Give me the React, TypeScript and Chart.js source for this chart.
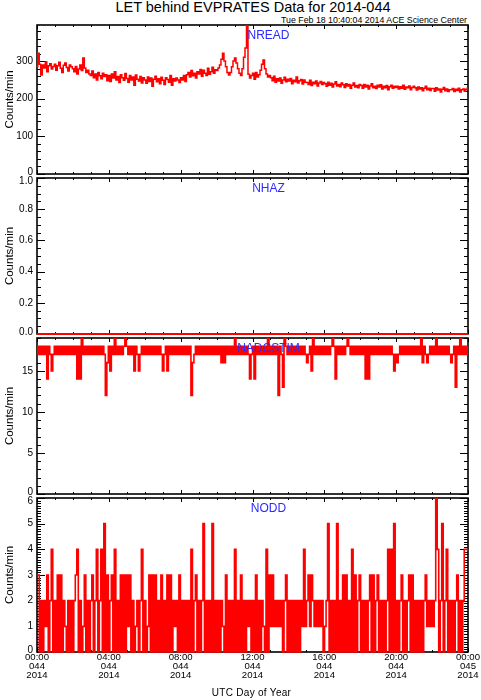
import React, { useEffect, useRef } from 'react';
import { Chart, registerables } from 'chart.js';

Chart.register(...registerables);

// ---------- data (5-minute samples across day 2014-044) ----------
const X_HOURS = [0, 4, 8, 12, 16, 20, 24];
const X_TIME_LABELS = ['00:00', '04:00', '08:00', '12:00', '16:00', '20:00', '00:00'];
const X_DAY_LABELS = ['044', '044', '044', '044', '044', '044', '045'];
const X_YEAR_LABELS = ['2014', '2014', '2014', '2014', '2014', '2014', '2014'];

const NREAD = [
  285, 321, 292, 263, 290, 282, 298, 272, 288, 293, 279, 286,
  292, 276, 288, 297, 281, 270, 289, 295, 283, 274, 290, 285,
  280, 272, 286, 266, 279, 290, 275, 308, 282, 270, 276, 266,
  262, 274, 256, 266, 250, 270, 261, 253, 268, 259, 264, 248,
  262, 246, 266, 255, 272, 250, 259, 243, 264, 256, 249, 267,
  254, 244, 262, 250, 258, 236, 263, 252, 247, 259, 242, 256,
  250, 241, 258, 246, 255, 233, 252, 260, 245, 253, 240, 257,
  249, 238, 256, 251, 244, 262, 236, 253, 247, 255, 250, 243,
  256, 250, 262, 246, 264, 270, 258, 275, 261, 268, 255, 272,
  266, 278, 260, 276, 268, 262, 281, 265, 272, 284, 268, 277,
  275, 282, 290, 305, 321, 300, 285, 270, 263, 270, 285, 300,
  308, 295, 280, 268, 262, 280, 310, 335, 396, 265, 255, 262,
  268, 252, 270, 258, 264, 276, 292, 303, 280, 266, 258, 262,
  256, 248, 260, 244, 253, 247, 255, 241, 250, 257, 245, 252,
  247, 254, 240, 249, 245, 258, 242, 248, 251, 239, 250, 244,
  243, 238, 249, 235, 244, 240, 247, 234, 242, 246, 238, 243,
  240, 233, 244, 236, 241, 231, 239, 245, 234, 238, 232, 242,
  237, 230, 240, 234, 238, 228, 236, 242, 231, 235, 229, 238,
  235, 228, 238, 231, 236, 226, 234, 240, 229, 233, 227, 236,
  231, 237, 226, 233, 229, 235, 224, 232, 236, 228, 233, 230,
  233, 226, 232, 228, 236, 225, 231, 229, 234, 224, 230, 233,
  229, 223, 231, 226, 229, 221, 228, 233, 224, 228, 222, 227,
  227, 220, 229, 223, 226, 218, 225, 230, 221, 226, 219, 224,
  224, 227, 219, 225, 222, 228, 218, 224, 226, 220, 225, 228,
];

const NHAZ = [
  0, 0, 0, 0, 0, 0, 0, 0, 0, 0, 0, 0, 0,
  0, 0, 0, 0, 0, 0, 0, 0, 0, 0, 0, 0,
];

const NADCSTIM = [
  18, 17, 18, 17, 18, 17, 18, 14, 18, 17, 15, 17,
  18, 17, 18, 17, 18, 17, 18, 17, 18, 17, 18, 17,
  18, 17, 18, 14, 18, 14, 19, 17, 18, 17, 18, 17,
  18, 17, 18, 17, 18, 17, 18, 17, 18, 17, 12, 16,
  18, 15, 18, 17, 19, 17, 18, 17, 18, 17, 18, 19,
  18, 17, 18, 17, 18, 15, 18, 17, 15, 17, 18, 17,
  18, 17, 18, 17, 18, 17, 18, 17, 18, 17, 18, 17,
  15, 17, 18, 15, 18, 17, 18, 17, 18, 17, 18, 17,
  18, 17, 18, 17, 18, 17, 18, 12, 16, 17, 18, 17,
  18, 17, 18, 17, 18, 17, 18, 17, 18, 17, 18, 17,
  18, 17, 18, 16, 18, 16, 18, 17, 18, 17, 18, 17,
  19, 17, 18, 17, 18, 17, 18, 17, 18, 17, 14, 17,
  18, 14, 18, 17, 18, 17, 18, 17, 18, 17, 19, 17,
  18, 17, 18, 17, 18, 12, 18, 17, 13, 19, 18, 17,
  18, 17, 18, 17, 18, 17, 18, 17, 18, 17, 18, 17,
  16, 17, 18, 15, 19, 17, 18, 17, 18, 17, 18, 17,
  18, 17, 18, 17, 18, 19, 18, 14, 18, 17, 18, 17,
  18, 17, 18, 19, 18, 17, 18, 17, 18, 17, 18, 17,
  18, 17, 18, 14, 18, 14, 18, 17, 18, 17, 18, 17,
  18, 17, 18, 17, 18, 17, 18, 17, 18, 17, 15, 17,
  16, 17, 18, 17, 18, 17, 18, 17, 18, 17, 18, 17,
  18, 17, 18, 17, 19, 16, 18, 17, 16, 17, 18, 17,
  18, 17, 19, 17, 18, 17, 18, 17, 18, 17, 18, 17,
  16, 17, 18, 13, 18, 17, 19, 17, 18, 17, 18, 17,
];

const NODD = [
  3, 3, 0, 2, 0, 2, 1, 3, 0, 2, 4, 0,
  2, 0, 3, 0, 3, 0, 2, 1, 0, 2, 0, 2,
  0, 2, 3, 4, 0, 2, 0, 1, 3, 0, 2, 0,
  2, 3, 0, 2, 4, 0, 2, 4, 0, 5, 0, 3,
  0, 2, 3, 0, 4, 0, 2, 0, 3, 0, 3, 0,
  3, 1, 3, 0, 2, 0, 1, 2, 0, 2, 4, 0,
  2, 0, 1, 3, 0, 3, 0, 3, 0, 2, 0, 3,
  0, 2, 0, 3, 0, 3, 0, 2, 1, 2, 0, 3,
  0, 2, 0, 2, 0, 2, 0, 4, 0, 2, 3, 0,
  2, 0, 2, 5, 0, 2, 0, 2, 0, 5, 0, 2,
  0, 2, 0, 2, 1, 0, 3, 0, 2, 0, 2, 0,
  4, 0, 2, 0, 3, 0, 2, 0, 2, 1, 2, 0,
  2, 0, 3, 0, 2, 0, 2, 1, 0, 4, 0, 3,
  1, 3, 1, 2, 1, 2, 1, 2, 0, 2, 3, 0,
  2, 0, 2, 0, 2, 0, 2, 0, 2, 1, 4, 1,
  2, 3, 1, 3, 2, 1, 2, 1, 2, 1, 2, 0,
  1, 2, 5, 0, 2, 0, 2, 0, 5, 0, 2, 0,
  3, 0, 3, 0, 2, 0, 4, 0, 3, 0, 2, 3,
  0, 2, 0, 2, 0, 2, 3, 0, 3, 0, 2, 3,
  0, 2, 0, 2, 0, 2, 4, 0, 4, 0, 5, 0,
  2, 0, 2, 3, 0, 2, 0, 2, 3, 0, 3, 0,
  2, 0, 2, 0, 2, 0, 2, 3, 1, 2, 1, 2,
  1, 2, 6, 4, 0, 2, 5, 0, 2, 4, 0, 2,
  0, 2, 0, 2, 3, 0, 2, 0, 2, 4, 4, 4,
];

const NREAD_TICKS = [0, 100, 200, 300];
const NHAZ_TICKS = [0, 0.2, 0.4, 0.6, 0.8, 1.0];
const NADCSTIM_TICKS = [0, 5, 10, 15];
const NODD_TICKS = [0, 1, 2, 3, 4, 5, 6];

// ---------- layout ----------
const FONT = '"Liberation Sans", Arial, Helvetica, sans-serif';
const PLOT_LEFT = 37;
const PLOT_RIGHT = 468;
const W = 481;

type PanelCfg = {
  name: string;
  values: number[];
  ticks: number[];
  min: number;
  max: number;
  major: number;
  minor: number;
  decimals: number;
  top: number;
  bottom: number;
  lw: number;
  showX: boolean;
};

const PANELS: PanelCfg[] = [
  { name: 'NREAD', values: NREAD, ticks: NREAD_TICKS, min: 0, max: 396, major: 100, minor: 20, decimals: 0, top: 25, bottom: 174, lw: 1.5, showX: false },
  { name: 'NHAZ', values: NHAZ, ticks: NHAZ_TICKS, min: 0, max: 1, major: 0.2, minor: 0.05, decimals: 1, top: 178, bottom: 334, lw: 1.8, showX: false },
  { name: 'NADCSTIM', values: NADCSTIM, ticks: NADCSTIM_TICKS, min: 0, max: 19, major: 5, minor: 1, decimals: 0, top: 338, bottom: 494, lw: 1.6, showX: false },
  { name: 'NODD', values: NODD, ticks: NODD_TICKS, min: 0, max: 6, major: 1, minor: 0.1, decimals: 0, top: 498, bottom: 652, lw: 1.6, showX: true },
];

// IDL-style frame with inward tick marks on all four sides
const idlAxes = {
  id: 'idlAxes',
  beforeDatasetsDraw(chart: any, _args: any, opts: any) {
    const { ctx, chartArea: a, scales } = chart;
    const xs = scales.x;
    const ys = scales.y;
    ctx.save();
    ctx.strokeStyle = '#000';
    ctx.lineWidth = 1;
    ctx.beginPath();
    const ny = Math.floor((ys.max - ys.min) / opts.yMinor + 1e-6);
    const ratioY = Math.round(opts.yMajor / opts.yMinor);
    for (let i = 0; i <= ny; i++) {
      const v = ys.min + i * opts.yMinor;
      const py = Math.round(ys.getPixelForValue(v)) + 0.5;
      const len = i % ratioY === 0 ? 8 : 4;
      ctx.moveTo(a.left, py);
      ctx.lineTo(a.left + len, py);
      ctx.moveTo(a.right, py);
      ctx.lineTo(a.right - len, py);
    }
    const nx = Math.floor((xs.max - xs.min) / opts.xMinor + 1e-6);
    const ratioX = Math.round(opts.xMajor / opts.xMinor);
    for (let i = 0; i <= nx; i++) {
      const v = xs.min + i * opts.xMinor;
      const px = Math.round(xs.getPixelForValue(v)) + 0.5;
      const len = i % ratioX === 0 ? 4 : 2;
      ctx.moveTo(px, a.bottom);
      ctx.lineTo(px, a.bottom - len);
      ctx.moveTo(px, a.top);
      ctx.lineTo(px, a.top + len);
    }
    ctx.stroke();
    ctx.lineWidth = 1.6;
    ctx.strokeRect(a.left, a.top, a.right - a.left, a.bottom - a.top);
    ctx.restore();
  },
};

function Panel({ cfg }: { cfg: PanelCfg }) {
  const ref = useRef<HTMLCanvasElement>(null);
  const padTop = 10;
  const padBottom = cfg.showX ? 0 : 10;
  const xAxisH = cfg.showX ? 36 : 0;
  const height = cfg.bottom - cfg.top + padTop + padBottom + xAxisH;

  useEffect(() => {
    const n = cfg.values.length;
    const points = cfg.values.map((v, i) => ({ x: (i * 24) / (n - 1), y: v }));
    const lastTick = cfg.ticks.length - 1;
    const chart = new Chart(ref.current as HTMLCanvasElement, {
      type: 'line',
      data: {
        datasets: [
          {
            data: points,
            borderColor: '#ff0000',
            borderWidth: cfg.lw,
            pointRadius: 0,
            stepped: 'middle',
            fill: false,
            clip: { left: 0, top: 0, right: 0, bottom: 2 },
          } as any,
        ],
      },
      options: {
        animation: false,
        responsive: false,
        events: [],
        layout: { padding: { left: 0, right: W - PLOT_RIGHT, top: padTop, bottom: padBottom } },
        plugins: {
          legend: { display: false },
          tooltip: { enabled: false },
          idlAxes: { yMajor: cfg.major, yMinor: cfg.minor, xMajor: 4, xMinor: 1 },
        } as any,
        scales: {
          x: {
            type: 'linear',
            min: 0,
            max: 24,
            display: cfg.showX,
            grid: { display: false, drawTicks: false },
            border: { display: false },
            afterBuildTicks: (s: any) => {
              s.ticks = X_HOURS.map((v) => ({ value: v }));
            },
            afterFit: (s: any) => {
              s.height = xAxisH;
              s.paddingLeft = 0;
              s.paddingRight = 0;
            },
            ticks: {
              autoSkip: false,
              maxRotation: 0,
              minRotation: 0,
              padding: 1.5,
              color: '#000',
              font: { family: FONT, size: 9.6, lineHeight: 0.9 },
              callback: (_v: any, i: number) => [X_TIME_LABELS[i], X_DAY_LABELS[i], X_YEAR_LABELS[i]],
            },
          },
          y: {
            type: 'linear',
            min: cfg.min,
            max: cfg.max,
            grid: { display: false, drawTicks: false },
            border: { display: false },
            afterBuildTicks: (s: any) => {
              s.ticks = cfg.ticks.map((v) => ({ value: v }));
            },
            afterFit: (s: any) => {
              s.width = PLOT_LEFT;
              s.paddingTop = 0;
              s.paddingBottom = 0;
            },
            title: {
              display: true,
              text: 'Counts/min',
              color: '#000',
              padding: { top: 3, bottom: 0 },
              font: { family: FONT, size: 11.5, lineHeight: 1.2 },
            },
            ticks: {
              padding: 4,
              color: '#000',
              // edge labels are nudged inside the frame, as in the IDL plot
              font: (ctx: any) => {
                const i = ctx.index;
                if (i === 0) return { family: FONT, size: 10, lineHeight: '4.4px' };
                if (i === lastTick && cfg.ticks[lastTick] === cfg.max) return { family: FONT, size: 10, lineHeight: '7.4px' };
                return { family: FONT, size: 10 };
              },
              callback: (v: any, i: number) => {
                const s = Number(v).toFixed(cfg.decimals);
                if (i === 0) return [s, ''];
                if (i === lastTick && cfg.ticks[lastTick] === cfg.max) return ['', s];
                return s;
              },
            },
          },
        },
      } as any,
      plugins: [idlAxes as any],
    });
    return () => chart.destroy();
  }, []);

  return (
    <>
      <canvas
        ref={ref}
        width={W}
        height={height}
        style={{ position: 'absolute', left: 0, top: cfg.top - padTop, width: W, height, display: 'block' }}
      />
      <div
        style={{
          position: 'absolute',
          left: PLOT_LEFT,
          width: PLOT_RIGHT - PLOT_LEFT + 32,
          top: cfg.top + 3.5,
          textAlign: 'center',
          color: '#2b2bff',
          fontSize: 12,
          lineHeight: '12px',
          fontFamily: FONT,
        }}
      >
        {cfg.name}
      </div>
    </>
  );
}

export default function App() {
  return (
    <div
      style={{
        position: 'absolute',
        left: 0,
        top: 0,
        width: W,
        height: 700,
        background: '#fff',
        overflow: 'hidden',
        fontFamily: FONT,
      }}
    >
      <div
        style={{
          position: 'absolute',
          left: PLOT_LEFT,
          width: PLOT_RIGHT - PLOT_LEFT + 1,
          top: 0,
          textAlign: 'center',
          fontSize: 14.5,
          lineHeight: '15px',
          color: '#000',
        }}
      >
        LET behind EVPRATES Data for 2014-044
      </div>
      <div
        style={{
          position: 'absolute',
          right: W - PLOT_RIGHT + 1,
          top: 15,
          fontSize: 8.8,
          lineHeight: '10px',
          color: '#000',
          whiteSpace: 'nowrap',
        }}
      >
        Tue Feb 18 10:40:04 2014 ACE Science Center
      </div>
      {PANELS.map((p) => (
        <Panel key={p.name} cfg={p} />
      ))}
      <div
        style={{
          position: 'absolute',
          left: PLOT_LEFT,
          width: PLOT_RIGHT - PLOT_LEFT - 2,
          top: 687,
          textAlign: 'center',
          fontSize: 10,
          lineHeight: '12px',
          letterSpacing: 0.3,
          color: '#000',
        }}
      >
        UTC Day of Year
      </div>
    </div>
  );
}
